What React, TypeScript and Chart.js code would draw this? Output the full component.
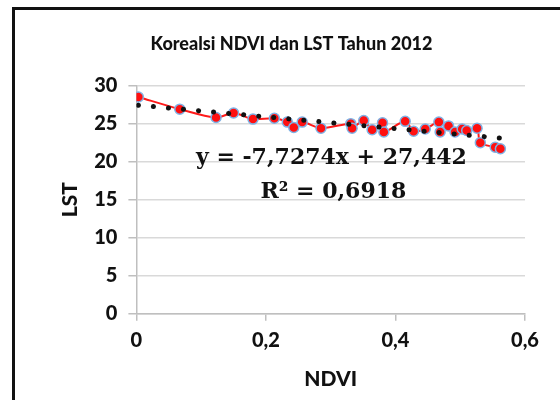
import React, { useEffect, useRef } from "react";
import { Chart, registerables } from "chart.js";

Chart.register(...registerables);

// NDVI (x) and LST (y) observations, sorted by NDVI
const ndvi = [0.003, 0.067, 0.123, 0.15, 0.18, 0.213, 0.233, 0.243, 0.256, 0.285, 0.331, 0.333, 0.351, 0.364, 0.38, 0.382, 0.415, 0.428, 0.446, 0.467, 0.469, 0.482, 0.492, 0.503, 0.51, 0.526, 0.531, 0.554, 0.562];
const lst = [28.5, 26.9, 25.8, 26.4, 25.6, 25.7, 25.2, 24.5, 25.2, 24.4, 25.0, 24.4, 25.4, 24.2, 25.1, 23.9, 25.3, 24.0, 24.3, 25.2, 23.9, 24.7, 23.9, 24.3, 24.1, 24.4, 22.5, 21.9, 21.7];

// Linear trendline end points (y = -7,7274x + 27,442)
const trendNdvi = [0.003, 0.562];
const trendLst = [27.42, 23.1];

const xTickLabels = ["0", "0,2", "0,4", "0,6"];
const xTickValues = [0, 0.2, 0.4, 0.6];
const yTickValues = [0, 5, 10, 15, 20, 25, 30];

const titleText = "Korealsi NDVI dan LST Tahun 2012";
const equationText = "y = -7,7274x + 27,442";
const r2Text = "R² = 0,6918";

const equationPlugin = {
  id: "equation",
  afterDatasetsDraw(chart: any) {
    const { ctx, chartArea } = chart;
    ctx.save();
    ctx.fillStyle = "#111";
    ctx.font = "bold 22px 'DejaVu Serif'";
    ctx.textAlign = "center";
    ctx.textBaseline = "middle";
    const cx = chartArea.left + 195;
    ctx.fillText(equationText, cx, chartArea.top + 73);
    ctx.fillText(r2Text, cx + 2, chartArea.top + 107);
    ctx.restore();
  },
};

export default function App() {
  const ref = useRef<HTMLCanvasElement>(null);
  useEffect(() => {
    document.body.style.margin = "0";
    const canvas = ref.current!;
    const tickFont = { family: "Lato", size: 20, weight: "900" as any };
    const chart = new Chart(canvas, {
      type: "scatter",
      data: {
        datasets: [
          {
            label: "Linear (LST)",
            data: trendNdvi.map((x, i) => ({ x, y: trendLst[i] })),
            showLine: true,
            borderColor: "#111111",
            borderWidth: 5,
            borderDash: [0.1, 15],
            borderCapStyle: "round",
            pointRadius: 0,
            fill: false,
          },
          {
            label: "LST",
            data: ndvi.map((x, i) => ({ x, y: lst[i] })),
            showLine: true,
            tension: 0.3,
            borderColor: "#ff1a1a",
            borderWidth: 2,
            pointRadius: 5,
            pointBorderWidth: 1.5,
            pointBackgroundColor: "#ff1010",
            pointBorderColor: "#7fb2e5",
          },
        ],
      },
      options: {
        responsive: false,
        animation: false,
        layout: { padding: { left: 58, right: 35, top: 0, bottom: 8 } },
        plugins: {
          legend: { display: false },
          tooltip: { enabled: false },
          title: {
            display: true,
            text: titleText,
            color: "#111",
            font: { family: "Lato", size: 18, weight: "900" as any },
            padding: { top: 33, bottom: 31 },
          },
        },
        scales: {
          x: {
            type: "linear",
            min: 0,
            max: 0.6,
            afterBuildTicks: (s: any) => {
              s.ticks = xTickValues.map((v) => ({ value: v }));
            },
            ticks: {
              color: "#111",
              font: tickFont,
              padding: 8,
              maxRotation: 0,
              callback: (_v: any, i: number) => xTickLabels[i],
            },
            grid: { drawOnChartArea: false, drawTicks: true, tickLength: 7, color: "#bfbfbf", lineWidth: 1.5 },
            border: { display: true, color: "#bfbfbf", width: 1.5 },
            title: {
              display: true,
              text: "NDVI",
              color: "#111",
              font: { family: "Lato", size: 21, weight: "900" as any },
              padding: { top: 6, bottom: 0 },
            },
          },
          y: {
            min: 0,
            max: 30,
            afterBuildTicks: (s: any) => {
              s.ticks = yTickValues.map((v) => ({ value: v }));
            },
            ticks: { color: "#111", font: tickFont, padding: 11 },
            grid: { color: "#d9d9d9", lineWidth: 1.5, tickLength: 8, tickColor: "#bfbfbf" },
            border: { display: true, color: "#bfbfbf", width: 1.5 },
            title: {
              display: true,
              text: "LST",
              color: "#111",
              font: { family: "Lato", size: 21, weight: "900" as any },
              padding: { top: 0, bottom: 0 },
            },
          },
        },
      },
      plugins: [equationPlugin],
    });
    return () => chart.destroy();
  }, []);
  return (
    <div style={{ position: "relative", width: 560, height: 400, overflow: "hidden", background: "#fff" }}>
      <div
        style={{
          position: "absolute",
          left: 12,
          top: 7,
          width: 600,
          height: 440,
          border: "3px solid #111",
          boxSizing: "border-box",
        }}
      />
      <canvas ref={ref} width={560} height={400} style={{ position: "absolute", left: 0, top: 0 }} />
    </div>
  );
}
